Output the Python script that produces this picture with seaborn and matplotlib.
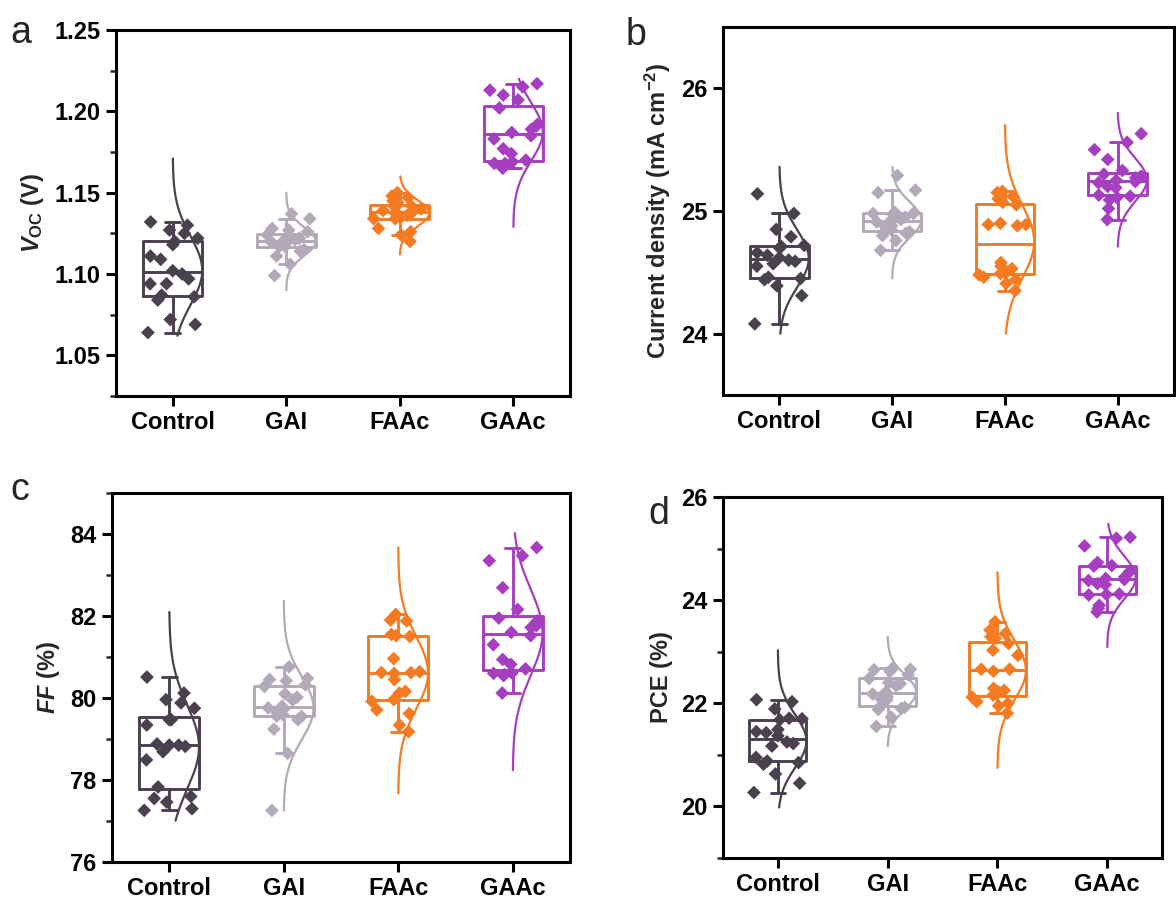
import numpy as np
import pandas as pd
import matplotlib
matplotlib.use("Agg")
import matplotlib.pyplot as plt
from matplotlib.ticker import MultipleLocator, NullLocator, FuncFormatter
import seaborn as sns

# ---- device groups and colours ----
groups = ["Control", "GAI", "FAAc", "GAAc"]
colors = ["#4b404e", "#b4a9b9", "#f47b21", "#a63ec0"]

# ---- open-circuit voltage (V) ----
voc_control = [1.132, 1.130, 1.127, 1.125, 1.122, 1.120, 1.118, 1.111, 1.109, 1.102,
               1.100, 1.097, 1.094, 1.094, 1.087, 1.086, 1.084, 1.072, 1.069, 1.064]
voc_gai = [1.137, 1.134, 1.128, 1.127, 1.126, 1.124, 1.123, 1.122, 1.121, 1.121,
           1.120, 1.119, 1.118, 1.117, 1.117, 1.115, 1.114, 1.111, 1.106, 1.099]
voc_faac = [1.150, 1.148, 1.147, 1.145, 1.144, 1.142, 1.141, 1.140, 1.139, 1.138,
            1.138, 1.137, 1.136, 1.135, 1.134, 1.134, 1.128, 1.126, 1.124, 1.120]
voc_gaac = [1.217, 1.215, 1.213, 1.210, 1.207, 1.202, 1.192, 1.191, 1.189, 1.187,
            1.185, 1.183, 1.177, 1.174, 1.170, 1.169, 1.168, 1.168, 1.166, 1.165]

# ---- short-circuit current density (mA cm-2) ----
jsc_control = [25.14, 24.98, 24.85, 24.79, 24.72, 24.71, 24.70, 24.66, 24.64, 24.62,
               24.60, 24.59, 24.57, 24.55, 24.46, 24.45, 24.44, 24.39, 24.31, 24.08]
jsc_gai = [25.29, 25.17, 25.15, 24.99, 24.98, 24.98, 24.97, 24.95, 24.93, 24.92,
           24.91, 24.88, 24.87, 24.85, 24.84, 24.83, 24.82, 24.80, 24.76, 24.68]
jsc_faac = [25.16, 25.15, 25.12, 25.10, 25.07, 25.05, 24.90, 24.89, 24.89, 24.88,
            24.58, 24.55, 24.53, 24.50, 24.49, 24.48, 24.46, 24.44, 24.41, 24.35]
jsc_gaac = [25.63, 25.56, 25.50, 25.42, 25.33, 25.30, 25.28, 25.28, 25.27, 25.25,
            25.24, 25.23, 25.20, 25.19, 25.12, 25.11, 25.13, 25.09, 25.02, 24.93]

# ---- fill factor (%) ----
ff_control = [80.51, 80.12, 79.96, 79.88, 79.75, 79.47, 79.47, 79.34, 78.88, 78.85,
              78.85, 78.82, 78.69, 78.49, 77.83, 77.60, 77.55, 77.46, 77.30, 77.26]
ff_gai = [80.76, 80.48, 80.45, 80.42, 80.32, 80.28, 80.10, 80.02, 79.95, 79.80,
          79.76, 79.72, 79.65, 79.60, 79.56, 79.55, 79.47, 79.24, 78.65, 77.26]
ff_faac = [82.04, 81.90, 81.88, 81.55, 81.52, 81.50, 80.96, 80.64, 80.62, 80.62,
           80.60, 80.45, 80.16, 80.12, 79.96, 79.92, 79.71, 79.62, 79.34, 79.18]
ff_gaac = [83.67, 83.47, 83.35, 82.69, 82.16, 81.95, 81.88, 81.76, 81.72, 81.60,
           81.52, 81.30, 80.94, 80.82, 80.71, 80.61, 80.60, 80.57, 80.55, 80.12]

# ---- power conversion efficiency (%) ----
pce_control = [22.07, 22.03, 21.89, 21.71, 21.70, 21.68, 21.49, 21.45, 21.43, 21.37,
               21.25, 21.22, 21.17, 20.95, 20.88, 20.85, 20.82, 20.63, 20.45, 20.27]
pce_gai = [22.68, 22.66, 22.65, 22.62, 22.55, 22.48, 22.40, 22.38, 22.34, 22.22,
           22.18, 22.12, 22.08, 22.06, 21.95, 21.92, 21.90, 21.88, 21.73, 21.55]
pce_faac = [23.58, 23.42, 23.35, 23.29, 23.26, 23.16, 23.03, 22.93, 22.66, 22.66,
            22.62, 22.29, 22.25, 22.22, 22.16, 22.12, 22.03, 22.00, 21.95, 21.81]
pce_gaac = [25.22, 25.20, 25.05, 24.73, 24.67, 24.66, 24.57, 24.55, 24.45, 24.42,
            24.40, 24.38, 24.32, 24.30, 24.12, 24.11, 24.10, 23.90, 23.84, 23.77]

# value span covered by each fitted normal curve (low, high)
voc_curve_span = [(1.062, 1.171), (1.090, 1.150), (1.112, 1.160), (1.129, 1.220)]
jsc_curve_span = [(24.00, 25.36), (24.45, 25.36), (24.00, 25.70), (24.71, 25.80)]
ff_curve_span = [(77.01, 82.10), (77.26, 82.37), (77.67, 83.67), (78.24, 84.02)]
pce_curve_span = [(19.98, 23.03), (21.17, 23.29), (20.75, 24.54), (23.09, 25.48)]

# ---- styling ----
sns.set_theme(style="white")
plt.rcParams["font.family"] = ["Liberation Sans", "DejaVu Sans"]
plt.rcParams["font.weight"] = "bold"
plt.rcParams["axes.labelweight"] = "bold"
plt.rcParams["mathtext.fontset"] = "custom"
plt.rcParams["mathtext.rm"] = "Liberation Sans:bold"
plt.rcParams["mathtext.bf"] = "Liberation Sans:bold"
plt.rcParams["mathtext.it"] = "Liberation Sans:italic:bold"
plt.rcParams["mathtext.default"] = "regular"

palette = dict(zip(groups, colors))
BOX_W = 0.52
LW = 2.1
FS = 17

fig = plt.figure(figsize=(11.76, 8.99), dpi=100)

panels = [
    dict(rect=[116, 30, 570, 396], data=[voc_control, voc_gai, voc_faac, voc_gaac],
         span=voc_curve_span, ylim=(1.025, 1.25), major=0.05, minor=0.025,
         fmt="{:.2f}", ylabel=r"$\mathit{V}_{\rm OC}$ (V)", letter="a", lpos=(10, 43)),
    dict(rect=[723, 27, 1174, 395], data=[jsc_control, jsc_gai, jsc_faac, jsc_gaac],
         span=jsc_curve_span, ylim=(23.5, 26.5), major=1, minor=None,
         fmt="{:.0f}", ylabel=r"Current density (mA cm$^{-2}$)", letter="b", lpos=(626, 45)),
    dict(rect=[112, 493, 570, 862], data=[ff_control, ff_gai, ff_faac, ff_gaac],
         span=ff_curve_span, ylim=(76, 85), major=2, minor=1,
         fmt="{:.0f}", ylabel=r"$\mathit{FF}$ (%)", letter="c", lpos=(10, 500)),
    dict(rect=[723, 497, 1162, 858], data=[pce_control, pce_gai, pce_faac, pce_gaac],
         span=pce_curve_span, ylim=(19, 26), major=2, minor=1,
         fmt="{:.0f}", ylabel="PCE (%)", letter="d", lpos=(648, 524)),
]

W, H = 1176, 899

for p in panels:
    l, t, r, b = p["rect"]
    ax = fig.add_axes([l / W, 1 - b / H, (r - l) / W, (b - t) / H])

    df = pd.DataFrame({
        "group": np.repeat(groups, [len(v) for v in p["data"]]),
        "value": np.concatenate([np.asarray(v, float) for v in p["data"]]),
    })

    sns.boxplot(data=df, x="group", y="value", hue="group", order=groups,
                hue_order=groups, palette=palette, fill=False, width=BOX_W,
                linewidth=LW, whis=1.5, showfliers=False, legend=False,
                capwidths=0.13, ax=ax)

    # fitted normal curve to the right of each box
    for i, (vals, (lo, hi)) in enumerate(zip(p["data"], p["span"])):
        v = np.asarray(vals, float)
        mu, sd = v.mean(), v.std(ddof=1)
        yy = np.linspace(lo, hi, 200)
        xx = i + (BOX_W / 2) * np.exp(-0.5 * ((yy - mu) / sd) ** 2)
        ax.plot(xx, yy, color=colors[i], lw=1.6, zorder=3)

    np.random.seed(7)
    sns.stripplot(data=df, x="group", y="value", hue="group", order=groups,
                  hue_order=groups, palette=palette, marker="D", size=7,
                  linewidth=0, jitter=0.23, legend=False, zorder=4, ax=ax)

    ax.set_xlim(-0.5, 3.5)
    ax.set_ylim(*p["ylim"])
    ax.yaxis.set_major_locator(MultipleLocator(p["major"]))
    if p["minor"]:
        ax.yaxis.set_minor_locator(MultipleLocator(p["minor"]))
    else:
        ax.yaxis.set_minor_locator(NullLocator())
    ax.yaxis.set_major_formatter(FuncFormatter(lambda v, _, f=p["fmt"]: f.format(v)))

    ax.set_xlabel("")
    ax.set_ylabel(p["ylabel"], fontsize=FS, fontweight="bold", labelpad=6)

    for s in ax.spines.values():
        s.set_visible(True)
        s.set_color("black")
        s.set_linewidth(2.2)
    ax.tick_params(axis="both", which="major", direction="out", length=7, width=2.2,
                   labelsize=FS, colors="black", left=True, bottom=True, pad=4)
    ax.tick_params(axis="y", which="minor", direction="out", length=4, width=1.8, left=True)
    for lab in ax.get_xticklabels() + ax.get_yticklabels():
        lab.set_fontweight("bold")

    fig.text(p["lpos"][0] / W, 1 - p["lpos"][1] / H, p["letter"], fontsize=27,
             fontweight="normal", va="baseline", ha="left")

fig.savefig("out.png", dpi=100)
